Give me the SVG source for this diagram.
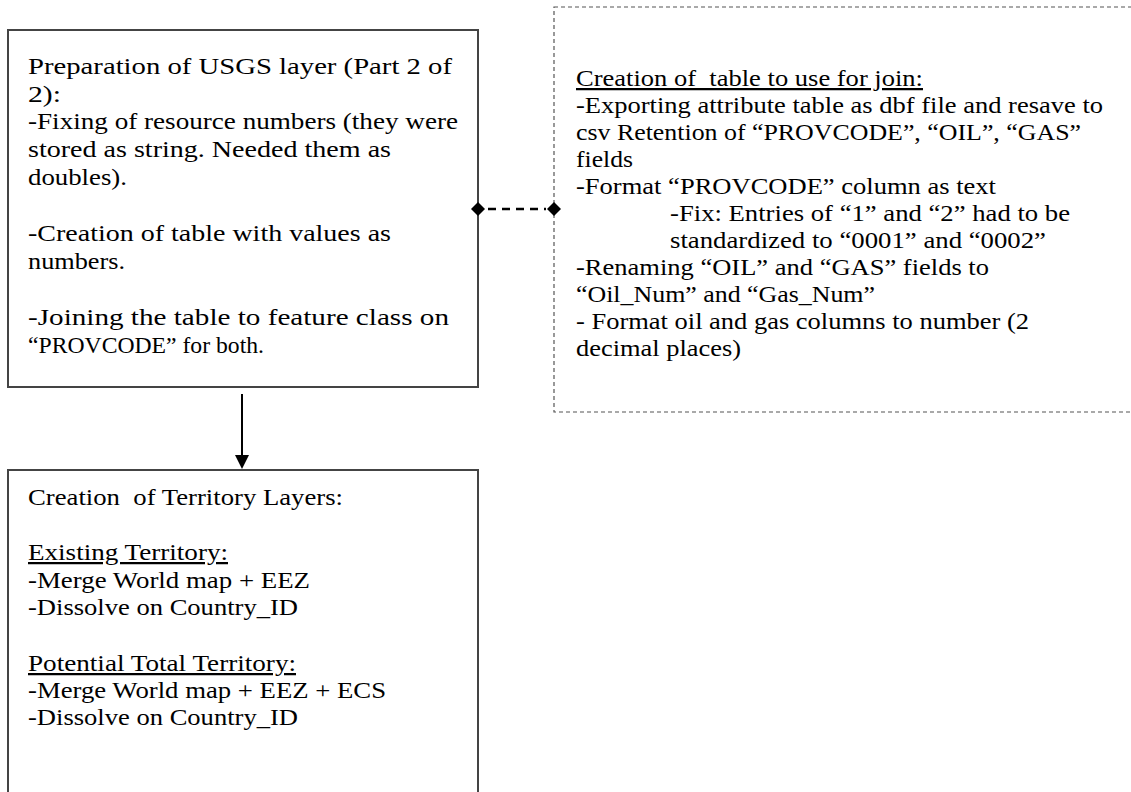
<svg xmlns="http://www.w3.org/2000/svg" width="1131" height="792" viewBox="0 0 1131 792">
<defs>
<style>
.box{fill:#fff;stroke:#444;stroke-width:2}
.dbox{fill:#fff;stroke:#555;stroke-width:1.2;stroke-dasharray:4 3}
text{font-family:'Liberation Serif','Times New Roman','DejaVu Serif','Noto Serif',serif;font-size:22.5px;fill:#000;white-space:pre}
.u{text-decoration:underline}
</style>
<marker id="arr" markerWidth="14" markerHeight="14" refX="12" refY="7" orient="auto" markerUnits="userSpaceOnUse">
<path d="M0,0 L14,7 L0,14 Z" fill="#000"/>
</marker>
</defs>
<rect width="1131" height="792" fill="#fff"/>
<g id="node-usgs">
<rect class="box" x="8" y="30" width="470" height="357"/>
<text x="28" y="74" textLength="424" lengthAdjust="spacingAndGlyphs">Preparation of USGS layer (Part 2 of</text>
<text x="28" y="102" textLength="33" lengthAdjust="spacingAndGlyphs">2):</text>
<text x="28" y="129" textLength="430" lengthAdjust="spacingAndGlyphs">-Fixing of resource numbers (they were</text>
<text x="28" y="157" textLength="363" lengthAdjust="spacingAndGlyphs">stored as string. Needed them as</text>
<text x="28" y="185" textLength="99" lengthAdjust="spacingAndGlyphs">doubles).</text>
<text x="28" y="241" textLength="363" lengthAdjust="spacingAndGlyphs">-Creation of table with values as</text>
<text x="28" y="269" textLength="97" lengthAdjust="spacingAndGlyphs">numbers.</text>
<text x="28" y="325" textLength="421" lengthAdjust="spacingAndGlyphs">-Joining the table to feature class on</text>
<text x="28" y="353" textLength="236" lengthAdjust="spacingAndGlyphs">“PROVCODE” for both.</text>
</g>
<g id="node-table">
<rect class="dbox" x="554" y="7" width="600" height="405"/>
<text x="576" y="86" class="u" xml:space="preserve" textLength="347" lengthAdjust="spacingAndGlyphs">Creation of  table to use for join:</text>
<text x="576" y="113" textLength="527" lengthAdjust="spacingAndGlyphs">-Exporting attribute table as dbf file and resave to</text>
<text x="576" y="140" textLength="505" lengthAdjust="spacingAndGlyphs">csv Retention of “PROVCODE”, “OIL”, “GAS”</text>
<text x="576" y="167" textLength="57" lengthAdjust="spacingAndGlyphs">fields</text>
<text x="576" y="194" textLength="420" lengthAdjust="spacingAndGlyphs">-Format “PROVCODE” column as text</text>
<text x="670" y="221" textLength="400" lengthAdjust="spacingAndGlyphs">-Fix: Entries of “1” and “2” had to be</text>
<text x="670" y="248" textLength="376" lengthAdjust="spacingAndGlyphs">standardized to “0001” and “0002”</text>
<text x="576" y="275" textLength="413" lengthAdjust="spacingAndGlyphs">-Renaming “OIL” and “GAS” fields to</text>
<text x="576" y="302" textLength="299" lengthAdjust="spacingAndGlyphs">“Oil_Num” and “Gas_Num”</text>
<text x="576" y="329" textLength="453" lengthAdjust="spacingAndGlyphs">- Format oil and gas columns to number (2</text>
<text x="576" y="356" textLength="165" lengthAdjust="spacingAndGlyphs">decimal places)</text>
</g>
<g id="node-territory">
<rect class="box" x="8" y="470" width="470" height="340"/>
<text x="28" y="505" xml:space="preserve" textLength="315" lengthAdjust="spacingAndGlyphs">Creation  of Territory Layers:</text>
<text x="28" y="560" class="u" textLength="200" lengthAdjust="spacingAndGlyphs">Existing Territory:</text>
<text x="28" y="588" textLength="282" lengthAdjust="spacingAndGlyphs">-Merge World map + EEZ</text>
<text x="28" y="615" textLength="270" lengthAdjust="spacingAndGlyphs">-Dissolve on Country_ID</text>
<text x="28" y="671" class="u" textLength="268" lengthAdjust="spacingAndGlyphs">Potential Total Territory:</text>
<text x="28" y="698" textLength="358" lengthAdjust="spacingAndGlyphs">-Merge World map + EEZ + ECS</text>
<text x="28" y="725" textLength="270" lengthAdjust="spacingAndGlyphs">-Dissolve on Country_ID</text>
</g>
<g id="connectors">
<line x1="242" y1="394" x2="242" y2="467" stroke="#000" stroke-width="2" marker-end="url(#arr)"/>
<line x1="488" y1="209" x2="546" y2="209" stroke="#000" stroke-width="2.5" stroke-dasharray="8 6"/>
<path d="M478,202 L485,209 L478,216 L471,209 Z" fill="#000"/>
<path d="M554,202 L561,209 L554,216 L547,209 Z" fill="#000"/>
</g>
</svg>
